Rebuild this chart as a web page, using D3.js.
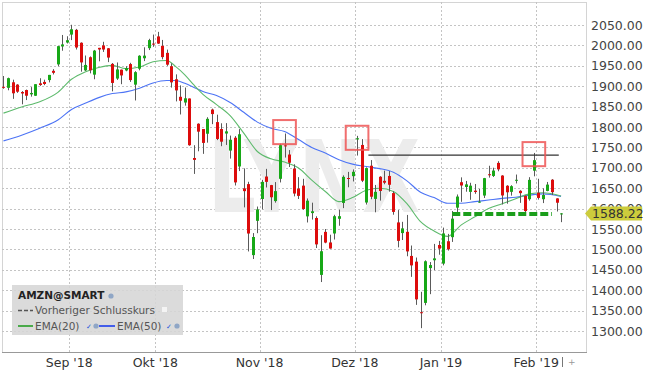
<!DOCTYPE html>
<html>
<head>
<meta charset="utf-8">
<script src="https://cdn.jsdelivr.net/npm/d3@7"></script>
<style>
  body { margin: 0; background: #fff; }
  svg { display: block; font-family: "DejaVu Sans", Verdana, sans-serif; }
</style>
</head>
<body>
<svg id="chart" width="645" height="373"></svg>
<script>
// AMZN daily candles, 13 Aug 2018 - 8 Feb 2019
var dates = [
  "2018-08-13","2018-08-14","2018-08-15","2018-08-16","2018-08-17","2018-08-20","2018-08-21","2018-08-22","2018-08-23","2018-08-24",
  "2018-08-27","2018-08-28","2018-08-29","2018-08-30","2018-08-31",
  "2018-09-04","2018-09-05","2018-09-06","2018-09-07","2018-09-10","2018-09-11","2018-09-12","2018-09-13","2018-09-14","2018-09-17",
  "2018-09-18","2018-09-19","2018-09-20","2018-09-21","2018-09-24","2018-09-25","2018-09-26","2018-09-27","2018-09-28",
  "2018-10-01","2018-10-02","2018-10-03","2018-10-04","2018-10-05","2018-10-08","2018-10-09","2018-10-10","2018-10-11","2018-10-12",
  "2018-10-15","2018-10-16","2018-10-17","2018-10-18","2018-10-19","2018-10-22","2018-10-23","2018-10-24","2018-10-25","2018-10-26",
  "2018-10-29","2018-10-30","2018-10-31",
  "2018-11-01","2018-11-02","2018-11-05","2018-11-06","2018-11-07","2018-11-08","2018-11-09","2018-11-12","2018-11-13","2018-11-14",
  "2018-11-15","2018-11-16","2018-11-19","2018-11-20","2018-11-21","2018-11-23","2018-11-26","2018-11-27","2018-11-28","2018-11-29",
  "2018-11-30",
  "2018-12-03","2018-12-04","2018-12-06","2018-12-07","2018-12-10","2018-12-11","2018-12-12","2018-12-13","2018-12-14","2018-12-17",
  "2018-12-18","2018-12-19","2018-12-20","2018-12-21","2018-12-24","2018-12-26","2018-12-27","2018-12-28","2018-12-31",
  "2019-01-02","2019-01-03","2019-01-04","2019-01-07","2019-01-08","2019-01-09","2019-01-10","2019-01-11","2019-01-14","2019-01-15",
  "2019-01-16","2019-01-17","2019-01-18","2019-01-22","2019-01-23","2019-01-24","2019-01-25","2019-01-28","2019-01-29","2019-01-30",
  "2019-01-31",
  "2019-02-01","2019-02-04","2019-02-05","2019-02-06","2019-02-07","2019-02-08"
];
var opens = [
  1898.5,1896.0,1909.6,1903.9,1885.8,1890.6,1880.0,1876.6,1907.0,1910.5,
  1915.0,1937.7,1953.45,1997.4,2007.0,
  2026.5,2038.1,2006.5,1938.7,1971.0,1928.3,1994.0,2000.0,1992.9,1954.7,
  1918.7,1940.5,1938.6,1954.2,1903.8,1942.9,1968.5,1993.2,2004.4,
  2022.0,1999.0,1981.7,1949.0,1917.0,1874.0,1860.0,1869.9,1724.0,1808.0,
  1795.0,1783.5,1842.8,1812.0,1795.0,1784.0,1742.2,1773.7,1703.3,1649.6,
  1660.0,1486.0,1570.0,
  1623.5,1678.6,1657.6,1618.4,1673.0,1755.0,1732.5,1698.2,1649.3,1656.3,
  1581.0,1589.0,1577.0,1437.5,1543.0,1517.0,1539.0,1575.0,1613.9,1675.0,
  1679.5,
  1769.5,1756.0,1614.9,1705.1,1623.8,1678.0,1668.0,1680.0,1638.0,1566.1,
  1540.0,1543.1,1484.0,1470.0,1346.0,1368.9,1454.2,1473.4,1510.8,
  1465.2,1520.0,1530.0,1602.3,1664.7,1653.0,1641.0,1644.0,1615.0,1632.0,
  1684.2,1680.0,1712.0,1681.0,1656.0,1641.1,1670.5,1643.6,1631.3,1623.0,
  1692.9,
  1638.9,1623.0,1643.3,1670.8,1625.0,1586.5
];
var highs = [
  1925.0,1921.0,1916.0,1905.0,1888.0,1891.7,1897.8,1905.0,1919.5,1916.0,
  1927.7,1941.8,1998.7,2025.6,2022.4,
  2050.5,2040.4,2007.5,1975.2,1973.0,1988.9,1994.0,2008.8,1993.6,1956.8,
  1958.2,1940.8,1948.9,1957.3,1936.9,1975.9,1995.3,2016.2,2026.5,
  2033.2,2013.4,1989.7,1956.0,1929.0,1902.0,1896.7,1869.9,1755.4,1809.0,
  1795.0,1823.9,1845.0,1830.2,1809.1,1809.5,1779.0,1777.7,1794.8,1698.5,
  1665.7,1540.0,1605.0,
  1670.5,1697.4,1658.1,1665.0,1759.2,1784.0,1743.5,1708.6,1677.1,1673.0,
  1624.8,1614.5,1581.2,1534.8,1550.0,1536.0,1584.8,1597.7,1681.5,1690.0,
  1696.0,
  1778.3,1770.3,1701.1,1718.9,1658.0,1679.5,1692.9,1692.1,1642.6,1596.4,
  1567.6,1584.5,1509.5,1480.0,1396.0,1473.2,1469.0,1513.5,1520.8,
  1553.4,1538.0,1594.0,1634.6,1676.6,1667.8,1663.3,1660.3,1648.2,1675.2,
  1705.0,1700.2,1716.2,1681.9,1657.4,1657.3,1683.5,1645.0,1632.4,1677.0,
  1736.4,
  1673.1,1649.6,1665.3,1672.3,1625.5,1589.0
];
var lows = [
  1893.7,1890.0,1869.0,1883.6,1855.6,1866.0,1874.4,1876.0,1900.8,1902.5,
  1909.3,1928.8,1948.9,1986.9,2004.7,
  2013.0,1989.9,1935.6,1937.3,1931.5,1917.0,1961.0,1984.0,1959.0,1887.4,
  1915.4,1904.9,1936.6,1910.5,1865.0,1938.9,1961.5,1988.6,1996.5,
  2003.6,1965.8,1949.8,1896.6,1862.8,1830.7,1852.3,1754.0,1685.0,1740.5,
  1734.2,1761.6,1807.0,1767.9,1753.0,1756.0,1722.6,1656.6,1692.0,1603.0,
  1495.0,1476.4,1539.7,
  1598.4,1651.8,1596.4,1614.6,1664.1,1725.1,1701.9,1630.0,1623.5,1597.1,
  1566.0,1573.1,1503.4,1420.0,1515.0,1501.8,1524.2,1558.0,1601.2,1652.3,
  1666.5,
  1730.0,1665.0,1609.9,1623.0,1590.9,1619.6,1659.7,1641.5,1585.0,1505.0,
  1523.0,1483.2,1432.7,1364.0,1307.0,1363.0,1390.3,1449.0,1487.0,
  1460.9,1497.1,1518.3,1589.2,1616.6,1641.4,1621.6,1636.2,1614.1,1626.0,
  1675.9,1677.5,1691.5,1610.2,1612.0,1631.8,1661.6,1614.1,1590.7,1619.4,
  1679.1,
  1622.0,1613.5,1642.5,1633.3,1592.9,1566.8
];
var closes = [
  1896.2,1919.7,1882.6,1886.5,1882.2,1876.7,1883.4,1904.9,1902.9,1905.4,
  1927.7,1932.8,1998.1,2002.4,2012.7,
  2039.5,1994.8,1958.3,1952.1,1939.0,1987.2,1990.0,1989.9,1970.2,1908.0,
  1941.1,1926.4,1944.3,1915.0,1934.4,1974.6,1974.9,2013.0,2003.0,
  2004.4,1971.3,1952.8,1909.4,1889.7,1864.4,1870.3,1755.3,1719.4,1788.6,
  1761.0,1820.0,1831.7,1770.7,1764.0,1789.3,1768.7,1664.2,1782.2,1642.8,
  1538.9,1530.4,1598.0,
  1665.5,1665.5,1627.8,1642.8,1755.5,1754.9,1712.4,1636.9,1631.2,1599.0,
  1619.4,1593.4,1512.3,1495.5,1516.7,1502.1,1581.3,1581.4,1677.8,1673.6,
  1690.2,
  1772.4,1668.4,1699.2,1629.1,1641.0,1643.2,1663.5,1658.4,1591.9,1520.9,
  1551.5,1495.1,1460.8,1377.5,1344.0,1470.9,1461.6,1478.0,1502.0,
  1539.1,1500.3,1575.4,1629.5,1656.6,1659.4,1656.2,1640.6,1617.2,1674.6,
  1683.8,1693.2,1696.2,1632.2,1640.0,1654.9,1670.6,1637.9,1593.9,1670.4,
  1718.7,
  1626.2,1633.3,1658.8,1640.3,1614.4,1588.22
];

// moving averages
var emaDays = [
  "2018-08-13","2018-08-17","2018-08-23","2018-08-29","2018-09-04","2018-09-07","2018-09-12","2018-09-17","2018-09-20","2018-09-25",
  "2018-09-28","2018-10-03","2018-10-05","2018-10-09","2018-10-11","2018-10-15","2018-10-18","2018-10-23","2018-10-26","2018-10-31",
  "2018-11-05","2018-11-08","2018-11-13","2018-11-16","2018-11-21","2018-11-27","2018-11-30","2018-12-06","2018-12-11","2018-12-14",
  "2018-12-19","2018-12-24","2018-12-28","2019-01-03","2019-01-08","2019-01-11","2019-01-16","2019-01-22","2019-01-25","2019-01-30",
  "2019-02-04","2019-02-08"
];
var ema20 = [
  1834,1849,1862,1885,1917,1935,1946,1951,1943,1947,
  1960,1963,1948,1928,1903,1880,1855,1828,1785,1740,
  1722,1714,1700,1670,1642,1617,1627,1645,1650,1642,
  1612,1568,1545,1532,1560,1580,1600,1612,1624,1636,
  1639,1631
];
var ema50 = [
  1766,1780,1797,1817,1843,1858,1872,1882,1886,1895,
  1908,1914,1914,1907,1897,1887,1877,1860,1836,1812,
  1797,1789,1770,1750,1736,1720,1709,1703,1698,1689,
  1668,1640,1627,1613,1613,1617,1621,1625,1628,1633,
  1636,1630
];

var priceTicks = [1300,1350,1400,1450,1500,1550,1600,1650,1700,1750,1800,1850,1900,1950,2000,2050];
var monthStarts = ["2018-09-04","2018-10-01","2018-11-01","2018-12-03","2019-01-02","2019-02-01"];
var monthLabels = ["Sep '18","Okt '18","Nov '18","Dez '18","Jan '19","Feb '19"];

// annotations: highlighted highs, resistance and support
var boxFrom = ["2018-11-06","2018-11-29","2019-01-29"];
var boxTo   = ["2018-11-12","2018-12-06","2019-02-04"];
var boxHi   = [1817,1803,1763];
var boxLo   = [1758,1744,1704];
var resistance = [["2018-12-07","2019-02-07"], 1731];
var support = [["2019-01-04","2019-02-06"], 1587];
var lastPrice = 1588.22;

var svg = d3.select('#chart');
var pL = 2, pR = 586, pT = 2, pB = 352;

var x = d3.scaleBand().domain(dates).range([1.23, 1.23 + dates.length * 4.533]).padding(0);
var bw = x.bandwidth();
function xc(d) { return x(d) + bw / 2; }
var y = d3.scaleLinear().domain([1300, 2050]).range([331, 25]);

svg.append('defs').append('clipPath').attr('id', 'plot')
  .append('rect').attr('x', pL).attr('y', pT).attr('width', pR - pL).attr('height', pB - pT);

// frame
svg.append('rect').attr('x', pL + 0.5).attr('y', pT + 0.5)
  .attr('width', pR - pL).attr('height', pB - pT)
  .attr('fill', '#fff').attr('stroke', '#d4d4d4');

// grid
var grid = svg.append('g').attr('clip-path', 'url(#plot)');
grid.selectAll('line.h').data(priceTicks).enter().append('line')
  .attr('x1', pL).attr('x2', pR)
  .attr('y1', function (d) { return Math.round(y(d)) + 0.5; })
  .attr('y2', function (d) { return Math.round(y(d)) + 0.5; })
  .attr('stroke', '#c4c4c4').attr('stroke-dasharray', '2,2');
grid.selectAll('line.v').data(monthStarts).enter().append('line')
  .attr('x1', function (d) { return Math.round(x(d)) + 0.5; })
  .attr('x2', function (d) { return Math.round(x(d)) + 0.5; })
  .attr('y1', pT).attr('y2', pB)
  .attr('stroke', '#c4c4c4').attr('stroke-dasharray', '2,2');

// watermark
svg.append('text').attr('x', 208).attr('y', 212)
  .attr('font-size', 99).attr('font-weight', 'bold')
  .attr('textLength', 212).attr('lengthAdjust', 'spacingAndGlyphs')
  .attr('fill', '#ececec').text('LYNX');

var plot = svg.append('g').attr('clip-path', 'url(#plot)');

// EMA lines
var emaLine = function (vals) {
  return d3.line()
    .x(function (d, i) { return xc(emaDays[i]); })
    .y(function (d) { return y(d); })
    .curve(d3.curveMonotoneX)(vals);
};
plot.append('path').attr('d', emaLine(ema50)).attr('fill', 'none').attr('stroke', '#4d74f5').attr('stroke-width', 1.1);
plot.append('path').attr('d', emaLine(ema20)).attr('fill', 'none').attr('stroke', '#5dba6c').attr('stroke-width', 1.1);

// candles
var idx = d3.range(dates.length);
plot.selectAll('line.wick').data(idx).enter().append('line')
  .attr('x1', function (i) { return Math.round(xc(dates[i])) + 0.5; })
  .attr('x2', function (i) { return Math.round(xc(dates[i])) + 0.5; })
  .attr('y1', function (i) { return y(highs[i]); })
  .attr('y2', function (i) { return y(lows[i]); })
  .attr('stroke', '#5a5a5a').attr('stroke-width', 1);
plot.selectAll('rect.body').data(idx).enter().append('rect')
  .attr('x', function (i) { return Math.round(xc(dates[i])) - 1; })
  .attr('width', 3)
  .attr('y', function (i) { return y(Math.max(opens[i], closes[i])); })
  .attr('height', function (i) { return Math.max(1, Math.abs(y(opens[i]) - y(closes[i]))); })
  .attr('fill', function (i) { return closes[i] >= opens[i] ? '#17a817' : '#dd0c0c'; });

// resistance & support
plot.append('line')
  .attr('x1', x(resistance[0][0])).attr('x2', x(resistance[0][1]) + bw)
  .attr('y1', y(resistance[1])).attr('y2', y(resistance[1]))
  .attr('stroke', '#333').attr('stroke-width', 1.3);
plot.append('line')
  .attr('x1', xc(support[0][0])).attr('x2', xc(support[0][1]))
  .attr('y1', y(support[1])).attr('y2', y(support[1]))
  .attr('stroke', '#1b9e1b').attr('stroke-width', 4).attr('stroke-dasharray', '8,3');

// highlight boxes
plot.selectAll('rect.box').data(boxFrom).enter().append('rect')
  .attr('x', function (d) { return x(d); })
  .attr('width', function (d, i) { return x(boxTo[i]) + bw - x(d); })
  .attr('y', function (d, i) { return y(boxHi[i]); })
  .attr('height', function (d, i) { return y(boxLo[i]) - y(boxHi[i]); })
  .attr('fill', 'none').attr('stroke', '#ee5555').attr('stroke-opacity', 0.85).attr('stroke-width', 2);

// price axis
var yAxis = svg.append('g').attr('transform', 'translate(' + pR + ',0)')
  .call(d3.axisRight(y).tickValues(priceTicks).tickFormat(d3.format('.2f')).tickSize(0).tickPadding(5));
yAxis.select('.domain').remove();
yAxis.selectAll('text').attr('font-size', 12.5).attr('fill', '#444')
  .attr('font-family', '"DejaVu Sans", Verdana, sans-serif');

// date axis
var xAxis = svg.append('g').attr('transform', 'translate(' + (-bw / 2) + ',' + pB + ')')
  .call(d3.axisBottom(x).tickValues(monthStarts)
    .tickFormat(function (d, i) { return monthLabels[i]; }).tickSize(0).tickPadding(6));
xAxis.select('.domain').remove();
xAxis.selectAll('text').attr('font-size', 12.5).attr('fill', '#333')
  .attr('font-family', '"DejaVu Sans", Verdana, sans-serif');

svg.append('line').attr('x1', pL).attr('x2', pR + 1).attr('y1', pB + 0.5).attr('y2', pB + 0.5)
  .attr('stroke', '#999');

// last price tag
var ly = y(lastPrice);
svg.append('path')
  .attr('d', 'M' + (pR - 1) + ',' + ly + 'L' + (pR + 5) + ',' + (ly - 7) + 'H642V' + (ly + 7) + 'H' + (pR + 5) + 'Z')
  .attr('fill', '#cccc3c');
svg.append('text').attr('x', 592).attr('y', ly).attr('dy', '0.36em')
  .attr('font-size', 12.5).attr('fill', '#333').text(d3.format('.2f')(lastPrice));

// now-marker under last candle
svg.append('line').attr('x1', 562.5).attr('x2', 562.5).attr('y1', 357).attr('y2', 367).attr('stroke', '#777');
svg.append('text').attr('x', 568).attr('y', 365).attr('font-size', 9).attr('fill', '#999').text('+');

// legend
var lg = svg.append('g');
lg.append('rect').attr('x', 12).attr('y', 285).attr('width', 171).attr('height', 50)
  .attr('fill', '#d6d6d6').attr('fill-opacity', 0.88);
lg.append('text').attr('x', 18).attr('y', 299).attr('font-size', 10.5).attr('font-weight', 'bold')
  .attr('fill', '#222').text('AMZN@SMART');
lg.append('line').attr('x1', 18).attr('x2', 33).attr('y1', 310.5).attr('y2', 310.5)
  .attr('stroke', '#555').attr('stroke-width', 1.5).attr('stroke-dasharray', '4,2');
lg.append('text').attr('x', 35).attr('y', 314).attr('font-size', 10.5).attr('fill', '#555').text('Vorheriger Schlusskurs');
lg.append('rect').attr('x', 162).attr('y', 307).attr('width', 5).attr('height', 5).attr('fill', '#f4f4f4');
lg.append('line').attr('x1', 18).attr('x2', 33).attr('y1', 326).attr('y2', 326).attr('stroke', '#1a9a1a').attr('stroke-width', 1.5);
lg.append('text').attr('x', 35).attr('y', 330).attr('font-size', 10.5).attr('fill', '#555').text('EMA(20)');
lg.append('line').attr('x1', 99).attr('x2', 115).attr('y1', 326).attr('y2', 326).attr('stroke', '#1133ee').attr('stroke-width', 1.5);
lg.append('text').attr('x', 117).attr('y', 330).attr('font-size', 10.5).attr('fill', '#555').text('EMA(50)');
[[86, 96], [166, 177]].forEach(function (p) {
  lg.append('text').attr('x', p[0]).attr('y', 329).attr('font-size', 7).attr('fill', '#2255dd').text('✓');
  lg.append('circle').attr('cx', p[1]).attr('cy', 326).attr('r', 2.6).attr('fill', '#8fa6c6');
});
lg.append('circle').attr('cx', 111).attr('cy', 296).attr('r', 2.6).attr('fill', '#8fa6c6');
</script>
</body>
</html>
